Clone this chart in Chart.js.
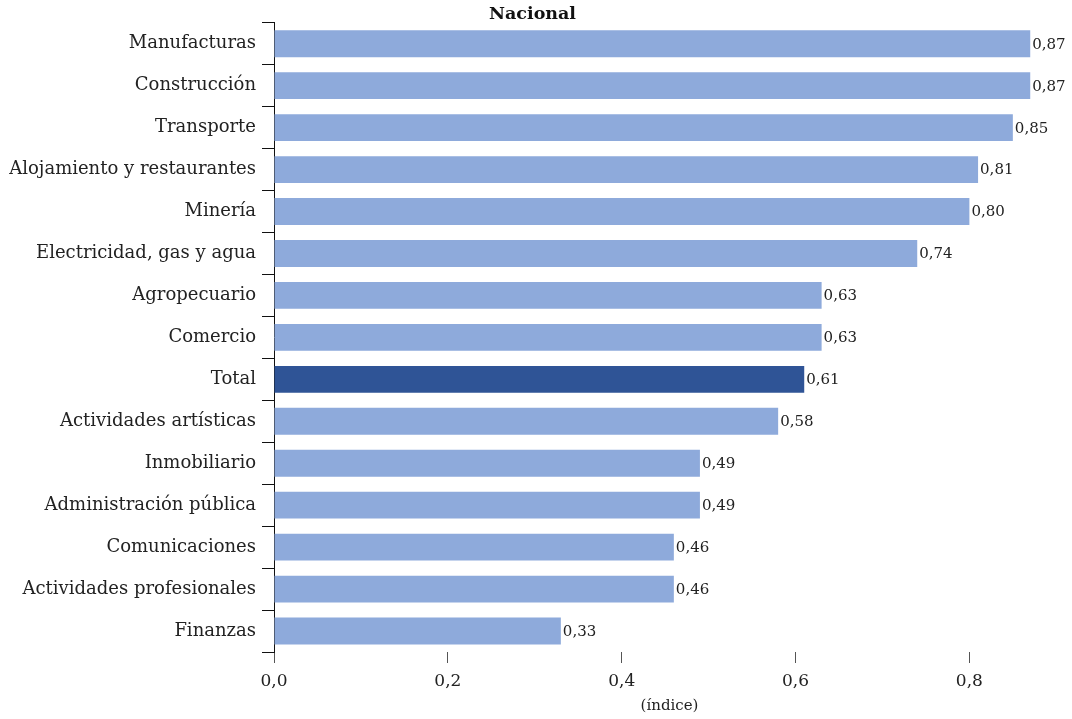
<!DOCTYPE html>
<html lang="es">
<head>
    <meta charset="UTF-8">
    <title>Nacional</title>
    <script src="https://cdn.jsdelivr.net/npm/chart.js@4.4.1/dist/chart.umd.min.js"></script>
    <style>
        body {
            margin: 0;
            background-color: white;
        }
        #wrap {
            width: 1072px;
            height: 719px;
        }
    </style>
</head>
<body>
    <div id="wrap">
        <canvas id="chart" width="1072" height="719"></canvas>
    </div>

    <script>
// sectors, top to bottom
const sectors = [
    'Manufacturas', 'Construcción', 'Transporte', 'Alojamiento y restaurantes',
    'Minería', 'Electricidad, gas y agua', 'Agropecuario', 'Comercio', 'Total',
    'Actividades artísticas', 'Inmobiliario', 'Administración pública',
    'Comunicaciones', 'Actividades profesionales', 'Finanzas'
];
const indexValues = [0.87, 0.87, 0.85, 0.81, 0.80, 0.74, 0.63, 0.63, 0.61, 0.58, 0.49, 0.49, 0.46, 0.46, 0.33];
const xTicks = [0, 0.2, 0.4, 0.6, 0.8];

const LIGHT = '#8eaadb';
const DARK = '#2f5496';
const FONT = "'DejaVu Serif', serif";

const comma = (v, d) => v.toFixed(d).replace('.', ',');

// writes the value just past the end of each bar
const valueLabels = {
    id: 'valueLabels',
    afterDatasetsDraw(chart) {
        const ctx = chart.ctx;
        const meta = chart.getDatasetMeta(0);
        ctx.save();
        ctx.font = '15px ' + FONT;
        ctx.fillStyle = '#222';
        ctx.textBaseline = 'middle';
        ctx.textAlign = 'left';
        meta.data.forEach((bar, i) => {
            ctx.fillText(comma(indexValues[i], 2), bar.x + 2, bar.y + 1);
        });
        ctx.restore();
    }
};

new Chart(document.getElementById('chart'), {
    type: 'bar',
    data: {
        labels: sectors,
        datasets: [{
            data: indexValues,
            backgroundColor: c => sectors[c.index] === 'Total' ? DARK : LIGHT,
            categoryPercentage: 1,
            barPercentage: 0.64
        }]
    },
    options: {
        indexAxis: 'y',
        responsive: false,
        animation: false,
        layout: { padding: { left: 0, right: 7, top: 0, bottom: 0 } },
        plugins: {
            legend: { display: false },
            tooltip: { enabled: false },
            title: {
                display: true,
                text: 'Nacional',
                color: '#111',
                font: { family: FONT, size: 17.5, weight: 'bold', lineHeight: 0.9 },
                padding: { top: 7, bottom: 0 }
            }
        },
        scales: {
            x: {
                min: 0,
                max: 0.91,
                afterFit: s => { s.height = 67; },
                afterBuildTicks: s => { s.ticks = xTicks.map(v => ({ value: v })); },
                border: { display: false },
                grid: {
                    drawOnChartArea: false,
                    drawTicks: true,
                    tickLength: 11,
                    color: '#555'
                },
                ticks: {
                    color: '#222',
                    padding: 8,
                    font: { family: FONT, size: 17 },
                    callback: v => comma(v, 1)
                },
                title: {
                    display: true,
                    text: '(índice)',
                    color: '#222',
                    font: { family: FONT, size: 15 },
                    padding: { top: 0, bottom: 4 }
                }
            },
            y: {
                afterFit: s => { s.width = 274; },
                border: { display: true, color: '#111', width: 1 },
                grid: {
                    offset: true,
                    drawOnChartArea: false,
                    drawTicks: true,
                    tickLength: 12,
                    color: '#111'
                },
                ticks: {
                    color: '#222',
                    padding: 6,
                    font: { family: FONT, size: 18 }
                }
            }
        }
    },
    plugins: [valueLabels]
});
    </script>
</body>
</html>
